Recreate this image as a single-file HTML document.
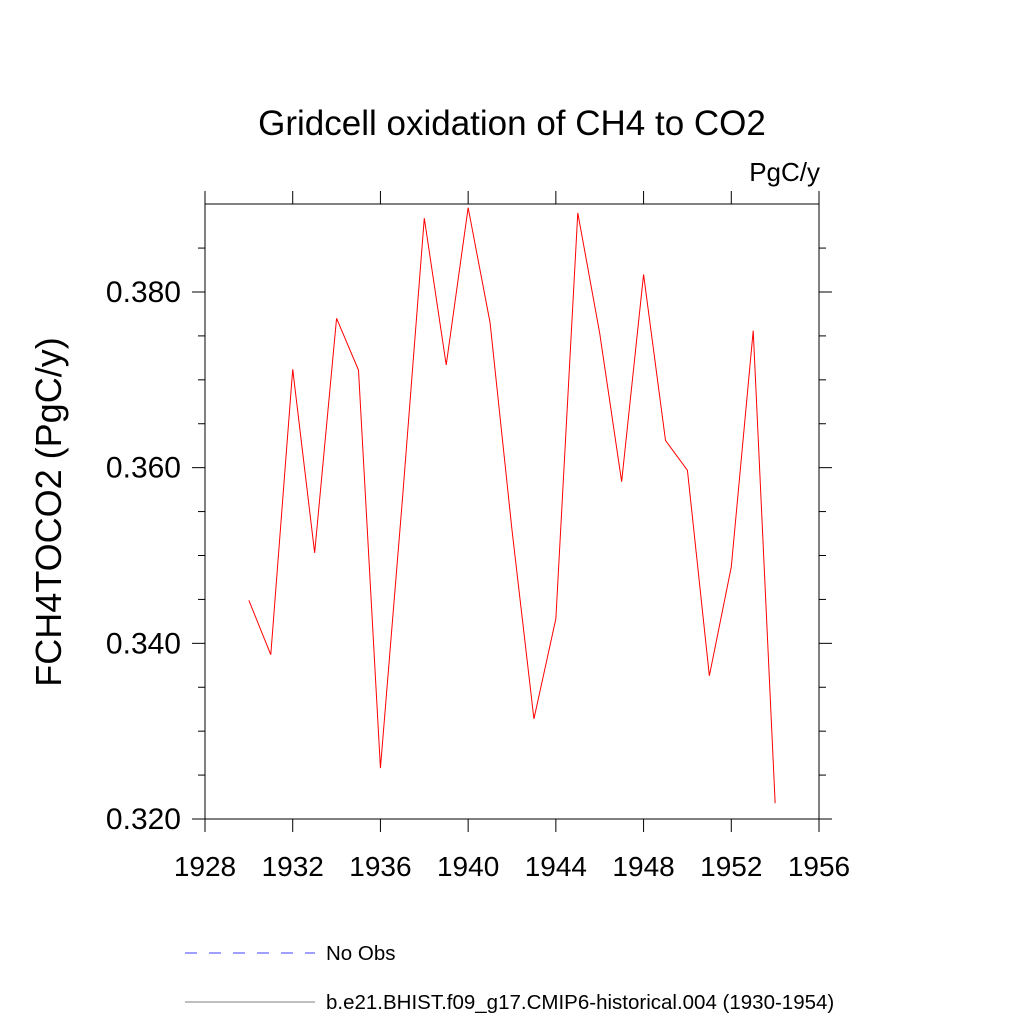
<!DOCTYPE html>
<html><head><meta charset="utf-8"><style>body{margin:0;background:#fff}svg{display:block}text{font-family:"Liberation Sans",sans-serif}</style></head>
<body>
<svg id="c" width="1024" height="1024">
<text x="512" y="135" font-size="35" text-anchor="middle">Gridcell oxidation of CH4 to CO2</text>
<text x="820" y="181" font-size="26" text-anchor="end">PgC/y</text>
<text transform="translate(61,512) rotate(-90)" font-size="36" text-anchor="middle">FCH4TOCO2  (PgC/y)</text>
<rect x="205" y="204" width="614" height="615" fill="none" stroke="#000" stroke-width="1"/>
<g id="ax"></g>
<polyline id="line" fill="none" stroke="#f00" stroke-width="1"/>
<line x1="185" y1="953" x2="315" y2="953" stroke="#00f" stroke-dasharray="12,12" stroke-width="0.8"/>
<text x="326" y="960" font-size="20.5">No Obs</text>
<line x1="185" y1="1002" x2="315" y2="1002" stroke="#000" stroke-width="0.6"/>
<text x="326" y="1009" font-size="20.5">b.e21.BHIST.f09_g17.CMIP6-historical.004 (1930-1954)</text>
</svg>
<script>
const years=[1930,1931,1932,1933,1934,1935,1936,1937,1938,1939,1940,1941,1942,1943,1944,1945,1946,1947,1948,1949,1950,1951,1952,1953,1954];
const values=[0.3449,0.3387,0.3712,0.3503,0.3770,0.3711,0.3258,0.3563,0.3884,0.3717,0.3896,0.3765,0.3529,0.3314,0.3428,0.3890,0.3753,0.3584,0.3820,0.3631,0.3597,0.3363,0.3487,0.3756,0.3218];
const xTicks=[1928,1932,1936,1940,1944,1948,1952,1956];
const yTicks=[0.320,0.340,0.360,0.380];
const yMinor=[0.325,0.330,0.335,0.345,0.350,0.355,0.365,0.370,0.375,0.385];
const X=v=>205+(v-1928)*614/28;
const Y=v=>819-(v-0.32)*8783.5;
const ns="http://www.w3.org/2000/svg",ax=document.getElementById('ax');
function ln(x1,y1,x2,y2){const l=document.createElementNS(ns,'line');l.setAttribute('x1',x1);l.setAttribute('y1',y1);l.setAttribute('x2',x2);l.setAttribute('y2',y2);l.setAttribute('stroke','#000');


ax.appendChild(l);}
function tx(x,y,s,a,n,fs){const t=document.createElementNS(ns,'text');t.setAttribute('x',x);t.setAttribute('y',y);t.setAttribute('font-size',fs);t.setAttribute('text-anchor',a);t.textContent=s;


ax.appendChild(t);}
xTicks.forEach(v=>{const x=X(v);ln(x,819,x,832);ln(x,204,x,191);tx(x,876,String(v),'middle','x-tick-label','28');});
yTicks.forEach(v=>{const y=Y(v);ln(205,y,192,y);ln(819,y,832,y);tx(181,y+10,v.toFixed(3),'end','y-tick-label','30');});
yMinor.forEach(v=>{const y=Y(v);ln(205,y,198,y);ln(819,y,826,y);});
document.getElementById('line').setAttribute('points',years.map((y,i)=>X(y)+','+Y(values[i])).join(' '));
</script>
</body></html>
